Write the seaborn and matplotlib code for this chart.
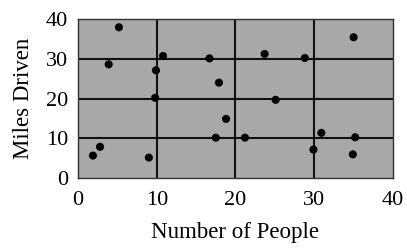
import matplotlib
matplotlib.use("Agg")
import matplotlib.pyplot as plt
import seaborn as sns
import pandas as pd

people = [1.9, 2.8, 9.0, 5.2, 3.9, 9.9, 10.8, 9.8, 16.7, 17.9, 23.7, 28.8, 35.0,
          25.1, 18.8, 17.5, 21.2, 30.9, 29.9, 35.2, 34.9]
miles = [5.7, 7.9, 5.2, 37.9, 28.6, 27.1, 30.7, 20.2, 30.1, 24.0, 31.2, 30.2, 35.4,
         19.7, 14.9, 10.2, 10.2, 11.4, 7.2, 10.3, 6.0]
ticks = [0, 10, 20, 30, 40]

df = pd.DataFrame({"Number of People": people, "Miles Driven": miles})

sns.set_style("white", {"text.color": "black", "axes.labelcolor": "black",
                        "xtick.color": "black", "ytick.color": "black"})
plt.rcParams["font.family"] = ["Liberation Serif", "DejaVu Serif"]

fig = plt.figure(figsize=(4.07, 2.49), dpi=100)
ax = fig.add_axes([0.1916, 0.284, 0.774, 0.640])
ax.set_facecolor("#a8a8a8")

sns.scatterplot(data=df, x="Number of People", y="Miles Driven", ax=ax,
                color="black", s=34, edgecolor="none", zorder=3)

ax.set_xlim(0, 40)
ax.set_ylim(0, 40)
ax.set_xticks(ticks)
ax.set_yticks(ticks)
ax.set_xticklabels([str(t) for t in ticks], fontsize=16)
ax.set_yticklabels([str(t) for t in ticks], fontsize=16)
ax.tick_params(axis="x", length=0, pad=9)
ax.tick_params(axis="y", length=0, pad=7)
for v in ticks[1:-1]:
    ax.axvline(v, color="#111111", lw=1.5, zorder=2)
    ax.axhline(v, color="#111111", lw=1.5, zorder=2)
for sp in ax.spines.values():
    sp.set_color("#333333")
    sp.set_linewidth(1.0)
ax.set_xlabel("Number of People", fontsize=16.5, labelpad=9)
ax.set_ylabel("Miles Driven", fontsize=16.5, labelpad=9)

fig.savefig("out.png", dpi=100)
